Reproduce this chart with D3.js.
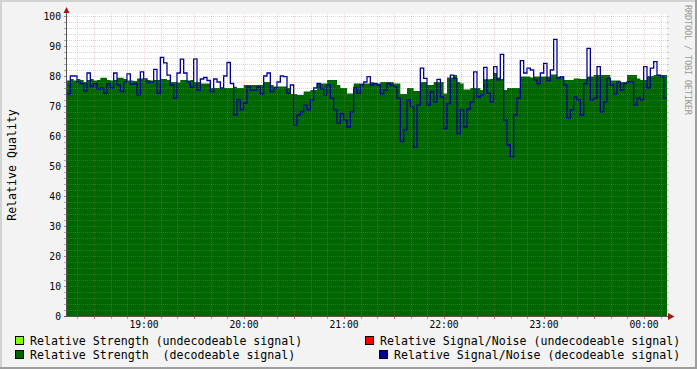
<!DOCTYPE html>
<html>
<head>
<meta charset="utf-8">
<script src="https://cdn.jsdelivr.net/npm/d3@7"></script>
<style>
body { margin: 0; background: #f3f3f3; }
svg { display: block; }
text { font-family: "DejaVu Sans Mono", monospace; white-space: pre; }
</style>
</head>
<body>
<div id="chart"></div>
<script>
// time axis: 6 hours, one sample every 2 minutes
const startTime = new Date(2020, 0, 1, 18, 13, 48);
const endTime = new Date(2020, 0, 2, 0, 13, 48);
const stepMs = 2 * 60 * 1000;

// Relative Strength (decodeable signal)
const strengthDecoded = [
    78.5, 79, 78.5, 79, 78.7, 78, 78.7, 79, 78.5, 78.7,
    79.4, 79.4, 78.7, 78.5, 78.7, 79.4, 79.4, 79, 78.5, 78.5,
    78.3, 79.2, 79.2, 78.7, 78.7, 78.5, 78.7, 78.7, 79, 79,
    78.7, 78, 78, 77.8, 78.7, 78.7, 78.5, 78.7, 78, 78,
    77.5, 77.5, 77.5, 76, 76, 76,
    76, 76, 76, 76, 76.4, 76, 76, 77, 77, 77,
    77, 77, 77, 78, 78, 77, 76.5, 76.5, 76.5, 76.5,
    76, 74, 74, 73.7, 73.7, 74.8, 74.8, 75.3, 75.3, 77.5,
    77.5, 77.5, 78.7, 78.7, 78.7, 77, 76, 76, 74.2, 74.2,
    77.5, 77.5, 77.5, 77.5, 77.5, 78, 77.5, 77.5,
    78, 78, 78, 78, 77.5, 77.5, 74, 74, 76, 76,
    75, 75, 78, 78, 77, 77, 78, 78, 78, 74.2,
    79.5, 79.5, 80.3, 78, 77.5, 75.5, 75.5, 76, 76, 76,
    75.3, 78.9, 78.9, 79, 81, 79.5, 79, 75.3, 76, 76,
    76, 76, 79.8, 79.8, 79.8, 79.5, 79.8, 79.8,
    79.8, 79.8, 79.8, 80.5, 80.5, 79.8, 79.8, 78.7, 78.7, 78.7,
    79.2, 79.2, 79, 79, 79.8, 79.8, 80.3, 80.3, 80.3, 80.3,
    80.3, 78.5, 78.5, 78.5, 78, 78, 80.3, 80.3, 80.3, 79.2,
    78.7, 78.7, 80, 80, 80.3, 80.3, 80.3, 80.3
];

// Relative Signal/Noise (decodeable signal)
const snrDecoded = [
    74, 80, 80, 78, 77.5, 75, 81, 76.5, 77.5, 75.7,
    76, 74.2, 77.5, 76, 81, 77, 74.8, 78, 80.7, 77.3,
    77.5, 73.7, 81.4, 79, 77.8, 78, 82.2, 74.2, 86.2, 84.4,
    80.3, 77, 72.6, 81, 85.6, 81, 78, 76.2, 85.7, 75.3,
    79, 79.5, 78.5, 74.8, 79, 78,
    76, 80, 84.5, 77.5, 67, 72, 68.7, 71, 76.4, 75.3,
    75.3, 76.4, 74, 80, 81, 74.8, 76, 78, 80, 79.8,
    74.2, 77, 63.7, 67, 68, 70.3, 68.7, 72, 76, 77.5,
    75.8, 73.7, 77, 72.6, 68.7, 64.2, 67.5, 65.3, 63, 68,
    76, 74.2, 77, 78, 79.8, 77, 77.5, 77,
    74, 75.3, 77.5, 77, 76.4, 72.6, 58.1, 62, 72, 69.8,
    56.2, 70.3, 82.6, 79.2, 70.3, 74.8, 71.4, 78.9, 73, 62.5,
    70.8, 80.3, 79.2, 60.7, 68.7, 63, 69, 71.4, 81.4, 73,
    73.7, 82.9, 74.2, 71.4, 83.1, 78.7, 87.2, 65.3, 57, 53.1,
    67, 72.6, 85.1, 81, 82.6, 82, 78.7, 77.5,
    81, 84.2, 78.5, 82, 92.2, 79.2, 79.8, 77, 65.9, 68.7,
    73, 72, 67, 77.5, 89.2, 72, 72.6, 83.1, 68, 71.4,
    79.2, 77, 74, 78, 75.3, 77.5, 78, 78, 70.3, 72.6,
    72, 83.1, 76, 82.6, 84.8, 80.3, 79.8, 72.6
];

const yTicks = [0, 10, 20, 30, 40, 50, 60, 70, 80, 90, 100];

const legendNames = [
    "Relative Strength (undecodeable signal)",
    "Relative Signal/Noise (undecodeable signal)",
    "Relative Strength  (decodeable signal)",
    "Relative Signal/Noise (decodeable signal)"
];
const legendColors = ["#80ff00", "#ff0000", "#006600", "#000099"];

const width = 697;
const height = 369;
const plotLeft = 67, plotRight = 667, plotTop = 16, plotBottom = 316;

let svg = d3.select("#chart")
    .append("svg")
    .attr("width", width)
    .attr("height", height);

// background + 3d frame
svg.append("rect").attr("width", width).attr("height", height).attr("fill", "#f3f3f3");
svg.append("rect").attr("x", 0).attr("y", 0).attr("width", width).attr("height", 2).attr("fill", "#d2d2d2");
svg.append("rect").attr("x", 0).attr("y", 0).attr("width", 2).attr("height", height).attr("fill", "#d2d2d2");
svg.append("rect").attr("x", 0).attr("y", height - 2).attr("width", width).attr("height", 2).attr("fill", "#9e9e9e");
svg.append("rect").attr("x", width - 2).attr("y", 0).attr("width", 2).attr("height", height).attr("fill", "#9e9e9e");

let x = d3.scaleTime().domain([startTime, endTime]).range([plotLeft, plotRight]);
let y = d3.scaleLinear().domain([0, 100]).range([plotBottom, plotTop]);

// canvas
svg.append("rect")
    .attr("x", plotLeft).attr("y", plotTop - 2)
    .attr("width", plotRight - plotLeft).attr("height", plotBottom - plotTop + 2)
    .attr("fill", "#ffffff");

function toSeries(values) {
    let pts = values.map(function(v, i) {
        return { t: new Date(startTime.getTime() + i * stepMs), v: v };
    });
    pts.push({ t: endTime, v: values[values.length - 1] });
    return pts;
}

let strengthData = toSeries(strengthDecoded);
let snrData = toSeries(snrDecoded);

svg.append("path")
    .datum(strengthData)
    .attr("fill", "#006600")
    .attr("d", d3.area()
        .x(function(d) { return x(d.t); })
        .y0(y(0))
        .y1(function(d) { return y(d.v); })
        .curve(d3.curveStepAfter));

svg.append("path")
    .datum(snrData)
    .attr("fill", "none")
    .attr("stroke", "#000099")
    .attr("stroke-width", 1.3)
    .attr("d", d3.line()
        .x(function(d) { return x(d.t); })
        .y(function(d) { return y(d.v); })
        .curve(d3.curveStepAfter));

// grid on top, like rrdtool
const minorColor = "rgba(140,140,140,0.35)";
const majorColor = "rgba(200,110,110,0.3)";
let grid = svg.append("g");

d3.range(0, 101, 2).forEach(function(v) {
    let yy = Math.round(y(v)) + 0.5;
    let major = v % 10 == 0;
    let c = major ? majorColor : minorColor;
    if (v > 0) {
        grid.append("line")
            .attr("x1", plotLeft).attr("x2", plotRight + 2)
            .attr("y1", yy).attr("y2", yy)
            .attr("stroke", c)
            .attr("stroke-dasharray", "1,1");
    }
    grid.append("line")
        .attr("x1", plotLeft - 3).attr("x2", plotLeft)
        .attr("y1", yy).attr("y2", yy)
        .attr("stroke", major ? "rgba(190,60,60,0.7)" : "rgba(120,120,120,0.6)");
    grid.append("line")
        .attr("x1", plotRight).attr("x2", plotRight + 2)
        .attr("y1", yy).attr("y2", yy)
        .attr("stroke", c);
});

x.ticks(d3.timeMinute.every(10)).forEach(function(t) {
    let xx = Math.round(x(t)) + 0.5;
    let major = t.getMinutes() % 30 == 0;
    let c = major ? majorColor : minorColor;
    grid.append("line")
        .attr("x1", xx).attr("x2", xx)
        .attr("y1", plotTop - 2).attr("y2", plotBottom)
        .attr("stroke", c)
        .attr("stroke-dasharray", "1,1");
    grid.append("line")
        .attr("x1", xx).attr("x2", xx)
        .attr("y1", plotBottom).attr("y2", plotBottom + 3)
        .attr("stroke", major ? "rgba(190,60,60,0.7)" : "rgba(120,120,120,0.6)");
});

// axes
svg.append("line")
    .attr("x1", plotLeft - 0.5).attr("x2", plotLeft - 0.5)
    .attr("y1", plotBottom + 1).attr("y2", 10)
    .attr("stroke", "#555555");
svg.append("line")
    .attr("x1", plotLeft - 3).attr("x2", 670)
    .attr("y1", plotBottom + 0.5).attr("y2", plotBottom + 0.5)
    .attr("stroke", "#555555");
svg.append("path")
    .attr("d", "M63.5,13 L69.5,13 L66.5,7 Z")
    .attr("fill", "#a01818");
svg.append("path")
    .attr("d", "M668,313 L668,320 L674.5,316.5 Z")
    .attr("fill", "#a01818");

// tick labels
svg.append("g").selectAll("text")
    .data(yTicks)
    .enter().append("text")
    .attr("x", 61)
    .attr("y", function(d) { return y(d) + 3.5; })
    .attr("text-anchor", "end")
    .style("font-size", "9.7px")
    .attr("fill", "#000")
    .text(function(d) { return d; });

svg.append("g").selectAll("text")
    .data(x.ticks(d3.timeHour.every(1)))
    .enter().append("text")
    .attr("x", function(d) { return x(d); })
    .attr("y", 328)
    .attr("text-anchor", "middle")
    .style("font-size", "9.7px")
    .attr("fill", "#000")
    .text(d3.timeFormat("%H:%M"));

svg.append("text")
    .attr("transform", "translate(12,165) rotate(-90)")
    .attr("text-anchor", "middle")
    .attr("dominant-baseline", "central")
    .style("font-size", "11.6px")
    .text("Relative Quality");

svg.append("text")
    .attr("transform", "translate(688,5) rotate(90)")
    .attr("text-anchor", "start")
    .attr("dominant-baseline", "central")
    .style("font-size", "8.6px")
    .attr("textLength", 110)
    .attr("fill", "#999999")
    .text("RRDTOOL / TOBI OETIKER");

// legend
const legendPos = [[30, 341], [380, 341], [30, 355], [394, 355]];
legendNames.forEach(function(name, i) {
    let p = legendPos[i];
    svg.append("rect")
        .attr("x", p[0] - 14.5).attr("y", p[1] - 4.5)
        .attr("width", 8).attr("height", 8)
        .attr("fill", legendColors[i])
        .attr("stroke", "#000")
        .attr("stroke-width", 1);
    svg.append("text")
        .attr("x", p[0])
        .attr("y", p[1] + 4)
        .style("font-size", "11.6px")
        .attr("fill", "#000")
        .text(name);
});
</script>
</body>
</html>
